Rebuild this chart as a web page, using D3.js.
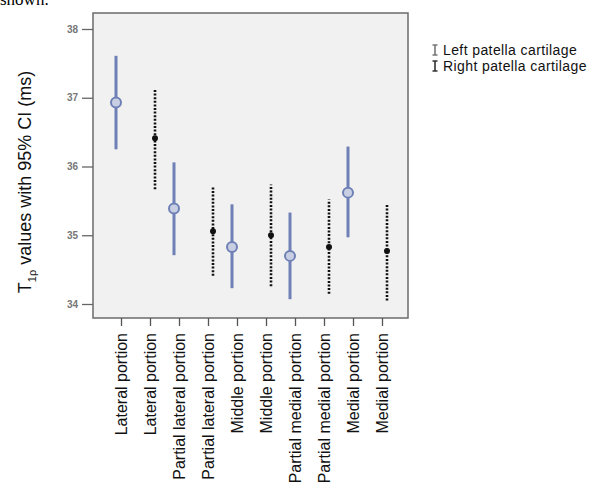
<!DOCTYPE html>
<html>
<head>
<meta charset="utf-8">
<script src="https://cdn.jsdelivr.net/npm/d3@7"></script>
<style>
  body { margin: 0; background: #fff; }
  svg { display: block; font-family: Arial, "Liberation Sans", sans-serif; }
</style>
</head>
<body>
<svg width="603" height="488"></svg>
<script>
// categories along the x axis (left, right alternating)
const labels = ["Lateral portion", "Lateral portion", "Partial lateral portion", "Partial lateral portion",
  "Middle portion", "Middle portion", "Partial medial portion", "Partial medial portion",
  "Medial portion", "Medial portion"]
const side = ["left", "right", "left", "right", "left", "right", "left", "right", "left", "right"]

// mean and 95% CI
const mean = [36.93, 36.41, 35.39, 35.06, 34.83, 35.00, 34.70, 34.83, 35.62, 34.77]
const lower = [36.25, 35.67, 34.71, 34.41, 34.23, 34.26, 34.07, 34.15, 34.97, 34.05]
const upper = [37.61, 37.13, 36.06, 35.70, 35.45, 35.74, 35.33, 35.52, 36.29, 35.45]

const yTicks = [34, 35, 36, 37, 38]

const data = labels.map((l, i) => ({ label: l, i: i, side: side[i], mean: mean[i], lo: lower[i], hi: upper[i] }))

const svg = d3.select("svg")
const blue = "#6f80b6"

const box = { left: 93, right: 408, top: 13, bottom: 318 }

const x = d3.scalePoint()
    .domain(d3.range(labels.length))
    .range([121, 382])

const y = d3.scaleLinear()
    .domain([34, 38])
    .range([304, 29])

// clipped sentence from the page above
svg.append("text")
    .attr("x", 0)
    .attr("y", 5)
    .style("font-family", "'Liberation Serif', 'Times New Roman', serif")
    .style("font-size", "17px")
    .text("shown.")

svg.append("rect")
    .attr("x", box.left)
    .attr("y", box.top)
    .attr("width", box.right - box.left)
    .attr("height", box.bottom - box.top)
    .attr("fill", "#f1f1f1")
    .attr("stroke", "#6b6b6b")
    .attr("stroke-width", 1.5)

// y axis
const yAxis = svg.append("g")
    .attr("transform", `translate(${box.left},0)`)
    .call(d3.axisLeft(y).tickValues(yTicks).tickSize(11).tickPadding(4).tickFormat(d3.format("d")))
yAxis.select(".domain").remove()
yAxis.selectAll("line").attr("stroke", "#666").attr("stroke-width", 1.3)
yAxis.selectAll("text").attr("fill", "#777").style("font-size", "10px").style("font-weight", "bold")

// x axis
const xAxis = svg.append("g")
    .attr("transform", `translate(0,${box.bottom})`)
    .call(d3.axisBottom(x).tickSize(8).tickFormat(i => labels[i]))
xAxis.select(".domain").remove()
xAxis.selectAll("line").attr("stroke", "#555").attr("stroke-width", 1.3)
xAxis.selectAll("text")
    .attr("fill", "#111")
    .style("font-size", "16px")
    .attr("transform", "rotate(-90)")
    .attr("text-anchor", "end")
    .attr("x", -15)
    .attr("y", 0)
    .attr("dy", "0.36em")

// y title
const yt = svg.append("text")
    .attr("transform", "translate(31,182) rotate(-90)")
    .attr("text-anchor", "middle")
    .style("font-size", "18px")
    .attr("fill", "#111")
yt.append("tspan").text("T")
yt.append("tspan").attr("dy", 5).style("font-size", "11px").text("1\u03c1")
yt.append("tspan").attr("dy", -5).text(" values with 95% CI (ms)")

const dx = d => d.side === "left" ? -5 : 5

const marks = svg.selectAll("g.bar")
    .data(data)
    .enter()
    .append("g")
    .attr("class", "bar")
    .attr("transform", d => `translate(${x(d.i) + dx(d)},0)`)

marks.append("line")
    .attr("y1", d => y(d.lo))
    .attr("y2", d => y(d.hi))
    .attr("stroke", d => d.side === "left" ? blue : "#111")
    .attr("stroke-width", d => d.side === "left" ? 3 : 2.6)
    .attr("stroke-dasharray", d => d.side === "left" ? null : "2,1.6")

marks.filter(d => d.side === "left")
    .append("circle")
    .attr("cy", d => y(d.mean))
    .attr("r", 5)
    .attr("fill", "#c9cfe2")
    .attr("stroke", blue)
    .attr("stroke-width", 2)

marks.filter(d => d.side === "right")
    .append("circle")
    .attr("cy", d => y(d.mean))
    .attr("r", 3)
    .attr("fill", "#111")

// legend
const legend = svg.append("g").attr("transform", "translate(435,0)")
const items = [{ name: "Left patella cartilage", c: "#777", yy: 55 }, { name: "Right patella cartilage", c: "#333", yy: 71 }]
items.forEach(it => {
    const g = legend.append("g").attr("transform", `translate(0,${it.yy})`)
    g.append("path")
        .attr("d", "M-2.5,-10H2.5M0,-10V0M-2.5,0H2.5")
        .attr("stroke", it.c)
        .attr("stroke-width", 1.6)
        .attr("fill", "none")
    g.append("text")
        .attr("x", 8)
        .attr("y", 0)
        .style("font-size", "14px")
        .style("letter-spacing", "0.4px")
        .attr("fill", "#111")
        .text(it.name)
})
</script>
</body>
</html>
